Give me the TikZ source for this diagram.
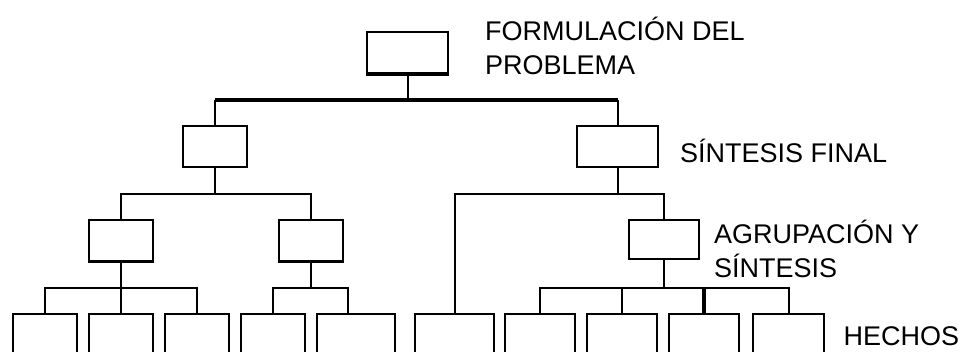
\documentclass[tikz,border=0pt]{standalone}
\usepackage{fontspec}
\setmainfont{Liberation Sans}
\usepackage{tikz}

\tikzset{
  caja/.style={draw, line width=2pt, inner sep=0pt, minimum height=41pt},
  enlace/.style={line width=2pt},
  grueso/.style={line width=3.2pt},
  rotulo/.style={anchor=west, inner sep=0pt, font=\fontsize{27}{34}\selectfont}
}

\begin{document}
\begin{tikzpicture}[x=1pt,y=-1pt]
\useasboundingbox (0,0) rectangle (961,351);
\clip (0,0) rectangle (961,351);

% cajas
\path (407.5,52.5) node[caja,minimum width=81pt] (fp) {};
\path (215,146) node[caja,minimum width=64pt] (sfl) {};
\path (617.5,146.5) node[caja,minimum width=81pt] (sfr) {};
\path (121,240) node[caja,minimum width=64pt] (ag1) {};
\path (311,240) node[caja,minimum width=64pt] (ag2) {};
\path (664,239.5) node[caja,minimum width=70pt,minimum height=39pt] (ag3) {};

\path (45,339) node[caja,minimum width=64pt,minimum height=50pt] (h1) {};
\path (121,339) node[caja,minimum width=64pt,minimum height=50pt] (h2) {};
\path (197,339) node[caja,minimum width=64pt,minimum height=50pt] (h3) {};
\path (273,339) node[caja,minimum width=64pt,minimum height=50pt] (h4) {};
\path (356,339) node[caja,minimum width=78pt,minimum height=50pt] (h5) {};
\path (454.5,339) node[caja,minimum width=79pt,minimum height=50pt] (h6) {};
\path (540,339) node[caja,minimum width=70pt,minimum height=50pt] (h7) {};
\path (622,339) node[caja,minimum width=70pt,minimum height=50pt] (h8) {};
\path (704,339) node[caja,minimum width=70pt,minimum height=50pt] (h9) {};
\path (788.5,339) node[caja,minimum width=71pt,minimum height=50pt] (h10) {};

% bordes inferiores gruesos
\draw[grueso] (fp.south west) -- (fp.south east);
\draw[grueso] (ag1.south west) -- (ag1.south east);
\draw[grueso] (ag2.south west) -- (ag2.south east);

% puntos de los buses
\coordinate (b0) at (407.5,100);
\coordinate (b1) at (215,193.5);
\coordinate (b2) at (617.5,193.5);
\coordinate (b3) at (121,288);
\coordinate (b4) at (311,288);
\coordinate (b5) at (664,288);

% conexiones
\draw[enlace] (fp.south) -- (b0);
\draw[grueso] (sfl.north |- b0) -- (sfr.north |- b0);
\draw[enlace] (sfl.north) -- (sfl.north |- b0);
\draw[enlace] (sfr.north) -- (sfr.north |- b0);

\draw[enlace] (sfl.south) -- (b1);
\draw[enlace] (ag1.north) |- (b1) -| (ag2.north);
\draw[enlace] (sfr.south) -- (b2);
\draw[enlace] (h6.north) |- (b2) -| (ag3.north);

\draw[enlace] (ag1.south) -- (h2.north);
\draw[enlace] (h1.north) |- (b3) -| (h3.north);
\draw[enlace] (ag2.south) -- (b4);
\draw[enlace] (h4.north) |- (b4) -| ([xshift=-8pt]h5.north);
\draw[enlace] (ag3.south) -- (b5);
\draw[enlace] (h7.north) |- (b5) -| (h10.north);
\draw[enlace] (h8.north) -- (h8.north |- b5);
\draw[grueso] (h9.north) -- (h9.north |- b5);

% textos
\path (485,45.5) node[rotulo,align=left] (tfp) {FORMULACIÓN DEL\\PROBLEMA};
\path (680,151) node[rotulo] (tsf) {SÍNTESIS FINAL};
\path (714,248.5) node[rotulo,align=left] (tag) {AGRUPACIÓN Y\\SÍNTESIS};
\path (843.5,336.5) node[rotulo] (th) {HECHOS};

\end{tikzpicture}
\end{document}
